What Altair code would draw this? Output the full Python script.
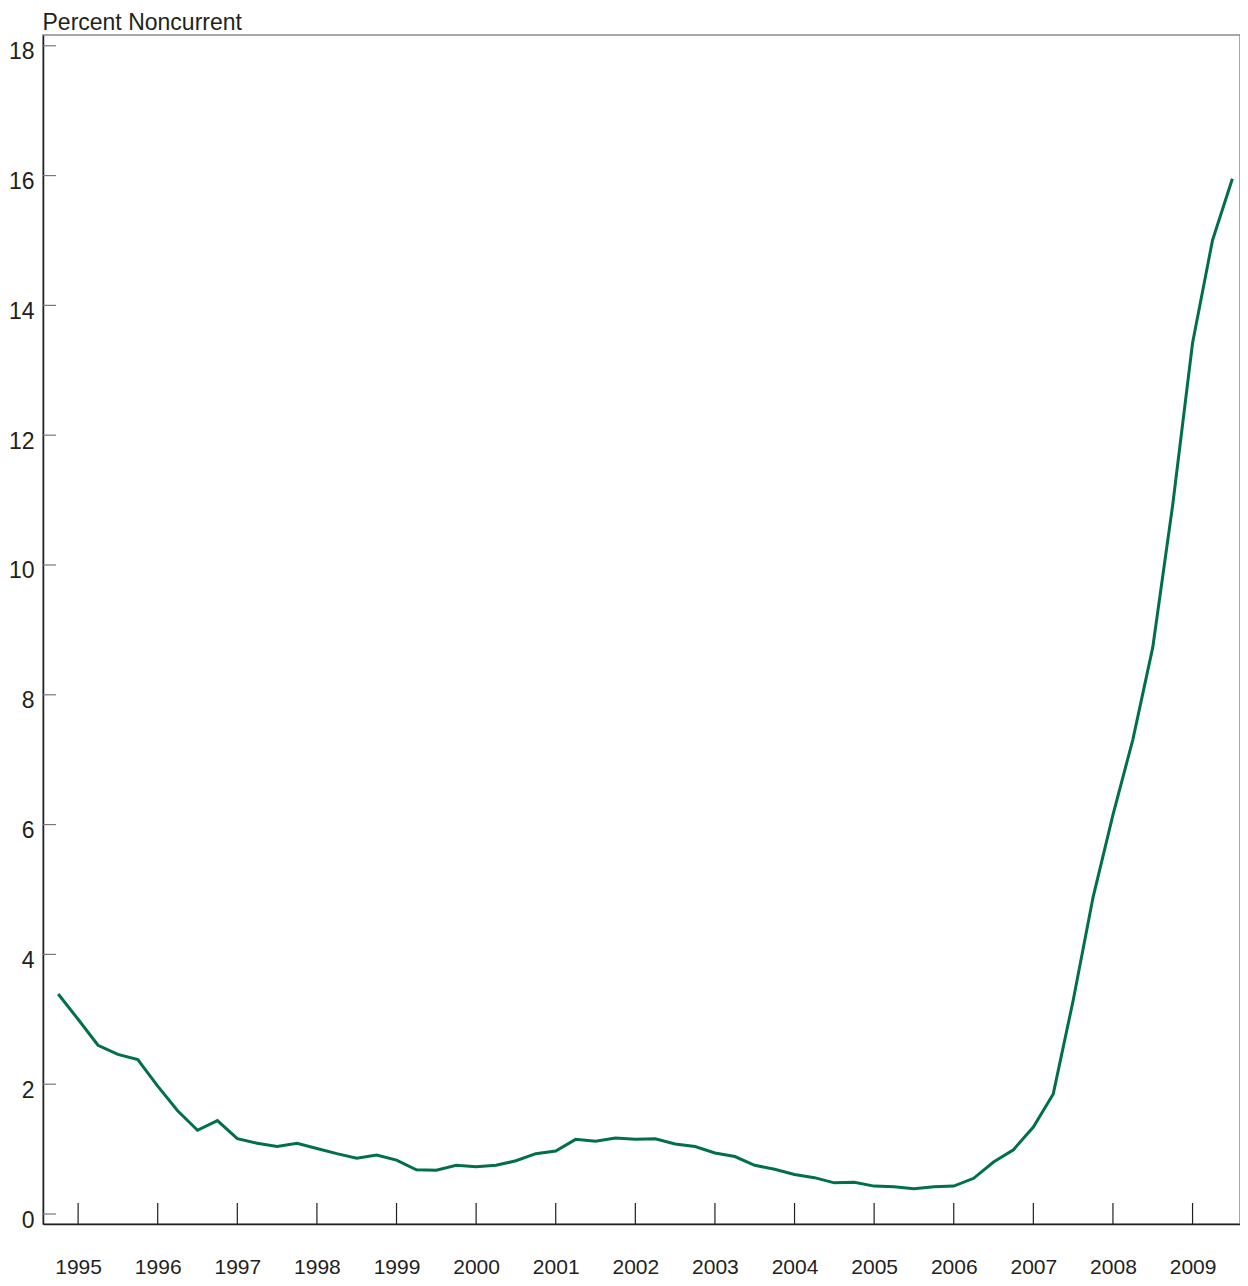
import altair as alt
import pandas as pd

# Quarterly series, 1994 Q4 through 2009 Q3
start_year = 1994
start_quarter = 4
pct_noncurrent = [
    3.39, 3.00, 2.60, 2.46, 2.38, 1.97, 1.59, 1.29, 1.44, 1.16,
    1.09, 1.04, 1.09, 1.01, 0.93, 0.86, 0.91, 0.83, 0.68, 0.675,
    0.75, 0.73, 0.75, 0.82, 0.93, 0.97, 1.15, 1.12, 1.17, 1.15,
    1.16, 1.08, 1.04, 0.94, 0.885, 0.75, 0.69, 0.61, 0.56, 0.48,
    0.49, 0.43, 0.42, 0.39, 0.42, 0.43, 0.55, 0.80, 0.99, 1.34,
    1.85, 3.29, 4.88, 6.15, 7.31, 8.73, 10.92, 13.42, 15.00, 15.95,
]
year_ticks = list(range(1995, 2010))
y_ticks = [0, 2, 4, 6, 8, 10, 12, 14, 16, 18]

t_vals = []
for i in range(len(pct_noncurrent)):
    q = (start_quarter - 1) + i
    t_vals.append(start_year + q // 4 + (q % 4) / 4.0)

df = pd.DataFrame({"t": t_vals, "v": pct_noncurrent})
df_years = pd.DataFrame({"yr": year_ticks})
df_y = pd.DataFrame({"yv": y_ticks})

W, H = 1197, 1189
FONT = "Liberation Sans"
DARK = "#231f20"

x_scale = alt.Scale(domain=[1994.559, 2009.596], nice=False, zero=False)
y_scale = alt.Scale(domain=[-0.154, 18.166], nice=False, zero=False)

line = alt.Chart(df).mark_line(color="#00704a", strokeWidth=3, strokeJoin="miter").encode(
    x=alt.X("t:Q", scale=x_scale,
            axis=alt.Axis(values=year_ticks, format="d", title=None, ticks=False,
                          grid=False, labelFontSize=21, labelFont=FONT, labelColor=DARK,
                          labelPadding=49, labelBaseline="alphabetic",
                          domainColor=DARK, domainWidth=1.5, labelFlush=False)),
    y=alt.Y("v:Q", scale=y_scale,
            axis=alt.Axis(values=y_ticks, format="d", ticks=False, grid=False,
                          labelFontSize=23, labelFont=FONT, labelColor=DARK,
                          labelPadding=9, labelOffset=6, labelFlush=False,
                          domainColor=DARK, domainWidth=1.5,
                          title="Percent Noncurrent", titleAngle=0, titleAlign="left",
                          titleBaseline="alphabetic", titleX=-1, titleY=-6,
                          titleFont=FONT, titleFontSize=23, titleFontWeight="normal",
                          titleColor=DARK)),
)

xticks = alt.Chart(df_years).mark_rule(color=DARK, strokeWidth=1.2).encode(
    x=alt.X("yr:Q", scale=x_scale),
    y=alt.value(H),
    y2=alt.value(H - 21),
)

yticks = alt.Chart(df_y).mark_rule(color="#777777", strokeWidth=1.2).encode(
    y=alt.Y("yv:Q", scale=y_scale),
    x=alt.value(0),
    x2=alt.value(13),
)

chart = alt.layer(xticks, yticks, line).properties(
    width=W, height=H,
    autosize=alt.AutoSizeParams(type="none"),
    padding={"left": 35, "top": 27, "right": 0, "bottom": 54},
    background="white",
).configure_view(stroke="#8c8c8c", strokeWidth=1.5)

chart.save("out.html", embed_options={"renderer": "svg", "actions": False})
